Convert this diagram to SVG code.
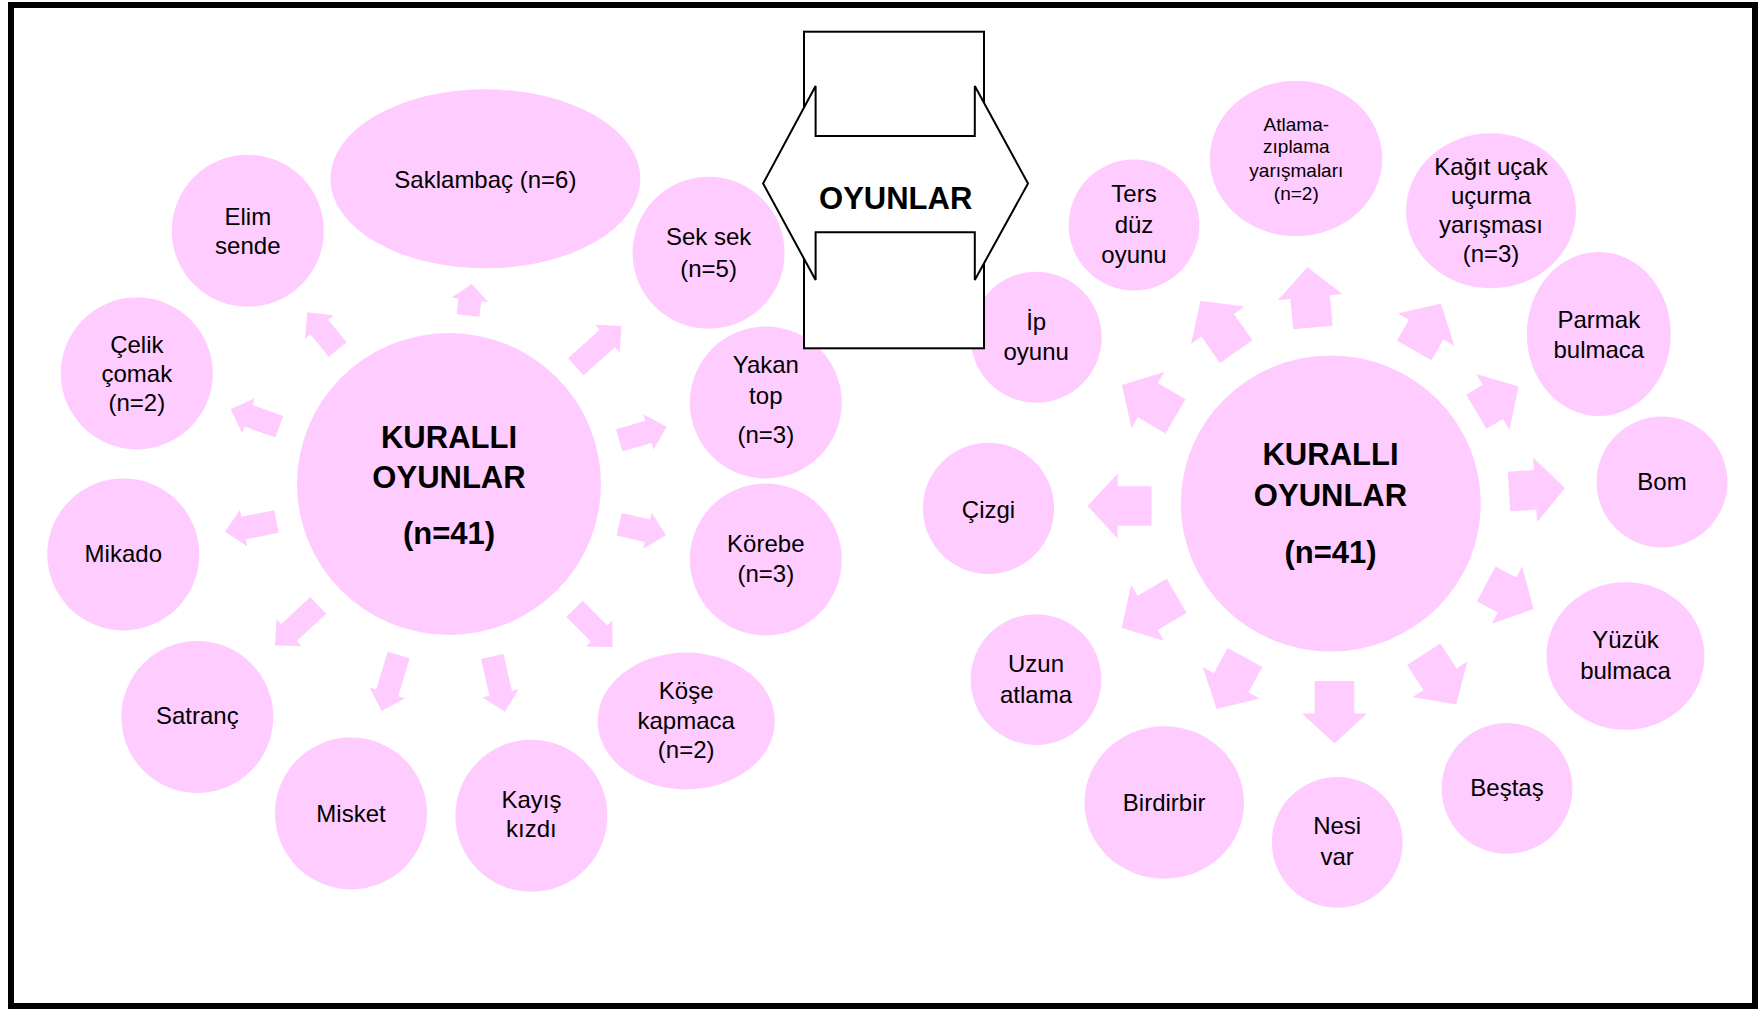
<svg xmlns="http://www.w3.org/2000/svg" width="1758" height="1009" viewBox="0 0 1758 1009">
  <style>
    .node { fill: #FFCCFF; }
    .arr { fill: #FFCCFF; }
    .lbl { font-family: "Liberation Sans", Arial, sans-serif; font-size: 24px; fill: #000; text-anchor: middle; }
    .sm { font-size: 19px; }
    .hub { font-weight: bold; font-size: 31px; }
    .frame { fill: none; stroke: #000; stroke-width: 6; }
    .box { fill: #fff; stroke: #000; stroke-width: 2; }
  </style>

  <rect x="0" y="0" width="1758" height="1009" fill="#fff"/>

  <!-- block arrows radiating from the two hubs -->
  <g id="connectors">
    <!-- left hub -->
    <path class="arr" d="M0,-11.5H15.7V-18.5L31.7,0L15.7,18.5V11.5H0Z" transform="translate(468,315.5) rotate(-83.3)"/>
    <path class="arr" d="M0,-11.5H29V-18.5L48,0L29,18.5V11.5H0Z" transform="translate(337.7,349.5) rotate(-129.3)"/>
    <path class="arr" d="M0,-11.5H32.7V-18.5L51.7,0L32.7,18.5V11.5H0Z" transform="translate(279.3,426.8) rotate(-160.2)"/>
    <path class="arr" d="M0,-11.5H33.5V-18.5L52.5,0L33.5,18.5V11.5H0Z" transform="translate(276.5,521.5) rotate(168.8)"/>
    <path class="arr" d="M0,-11.5H39.9V-18.5L58.9,0L39.9,18.5V11.5H0Z" transform="translate(318.2,605.3) rotate(137.1)"/>
    <path class="arr" d="M0,-11.5H39.5V-18.5L58.5,0L39.5,18.5V11.5H0Z" transform="translate(398.7,655) rotate(106.9)"/>
    <path class="arr" d="M0,-11.5H37.7V-18.5L56.7,0L37.7,18.5V11.5H0Z" transform="translate(492.2,656.5) rotate(77)"/>
    <path class="arr" d="M0,-11.5H34.9V-18.5L53.9,0L34.9,18.5V11.5H0Z" transform="translate(574.5,608.8) rotate(45.1)"/>
    <path class="arr" d="M0,-11.5H29V-18.5L48,0L29,18.5V11.5H0Z" transform="translate(619.2,524.2) rotate(13)"/>
    <path class="arr" d="M0,-11.5H30.4V-18.5L49.4,0L30.4,18.5V11.5H0Z" transform="translate(619.2,440.3) rotate(-16)"/>
    <path class="arr" d="M0,-11.5H42.2V-18.5L61.2,0L42.2,18.5V11.5H0Z" transform="translate(575.8,366.7) rotate(-41.7)"/>
    <!-- right hub -->
    <path class="arr" d="M0,-19.8H33.9V-32.5L63.9,0L33.9,32.5V19.8H0Z" transform="translate(1151.5,506) rotate(180)"/>
    <path class="arr" d="M0,-19.8H32V-32.5L62,0L32,32.5V19.8H0Z" transform="translate(1175.5,416.3) rotate(-149.7)"/>
    <path class="arr" d="M0,-19.8H32.3V-32.5L62.3,0L32.3,32.5V19.8H0Z" transform="translate(1236.2,351.7) rotate(-125)"/>
    <path class="arr" d="M0,-19.8H30.5V-32.5L60.5,0L30.5,32.5V19.8H0Z" transform="translate(1313,327.5) rotate(-95.4)"/>
    <path class="arr" d="M0,-19.8H24.1V-32.5L54.1,0L24.1,32.5V19.8H0Z" transform="translate(1414.2,350.5) rotate(-60.3)"/>
    <path class="arr" d="M0,-19.8H19.2V-32.5L49.2,0L19.2,32.5V19.8H0Z" transform="translate(1476.3,411.7) rotate(-30.8)"/>
    <path class="arr" d="M0,-19.8H26.1V-32.5L56.1,0L26.1,32.5V19.8H0Z" transform="translate(1509,491.5) rotate(-3.6)"/>
    <path class="arr" d="M0,-19.8H23.5V-32.5L53.5,0L23.5,32.5V19.8H0Z" transform="translate(1486.2,584) rotate(27.9)"/>
    <path class="arr" d="M0,-19.8H29.9V-32.5L59.9,0L29.9,32.5V19.8H0Z" transform="translate(1423.7,654.2) rotate(57)"/>
    <path class="arr" d="M0,-19.8H32.5V-32.5L62.5,0L32.5,32.5V19.8H0Z" transform="translate(1334.5,681) rotate(90)"/>
    <path class="arr" d="M0,-19.8H28.8V-32.5L58.8,0L28.8,32.5V19.8H0Z" transform="translate(1245,657.5) rotate(118.8)"/>
    <path class="arr" d="M0,-19.8H33.7V-32.5L63.7,0L33.7,32.5V19.8H0Z" transform="translate(1176.7,595.8) rotate(149.7)"/>
  </g>

  <!-- left cluster -->
  <g id="hub-left">
    <ellipse class="node" cx="449" cy="484" rx="152" ry="151"/>
    <text class="lbl hub" x="449" y="447.5">KURALLI</text>
    <text class="lbl hub" x="449" y="487.7">OYUNLAR</text>
    <text class="lbl hub" x="449" y="544">(n=41)</text>
  </g>
  <g id="saklambac">
    <ellipse class="node" cx="485.4" cy="178.8" rx="155" ry="89.5"/>
    <text class="lbl" x="485.4" y="188">Saklambaç (n=6)</text>
  </g>
  <g id="elim-sende">
    <circle class="node" cx="247.8" cy="230.8" r="76"/>
    <text class="lbl" x="247.8" y="225">Elim</text>
    <text class="lbl" x="247.8" y="254">sende</text>
  </g>
  <g id="celik-comak">
    <circle class="node" cx="136.8" cy="373.4" r="76"/>
    <text class="lbl" x="136.8" y="352.7">Çelik</text>
    <text class="lbl" x="136.8" y="381.7">çomak</text>
    <text class="lbl" x="136.8" y="410.7">(n=2)</text>
  </g>
  <g id="mikado">
    <circle class="node" cx="123.3" cy="554.4" r="76"/>
    <text class="lbl" x="123.3" y="562">Mikado</text>
  </g>
  <g id="satranc">
    <circle class="node" cx="197.3" cy="717" r="76"/>
    <text class="lbl" x="197.3" y="724.3">Satranç</text>
  </g>
  <g id="misket">
    <circle class="node" cx="351" cy="813.4" r="76"/>
    <text class="lbl" x="351" y="822">Misket</text>
  </g>
  <g id="kayis-kizdi">
    <circle class="node" cx="531.4" cy="815.7" r="76"/>
    <text class="lbl" x="531.4" y="807.7">Kayış</text>
    <text class="lbl" x="531.4" y="837">kızdı</text>
  </g>
  <g id="kose-kapmaca">
    <ellipse class="node" cx="686.2" cy="721" rx="88.6" ry="68.4"/>
    <text class="lbl" x="686.2" y="698.7">Köşe</text>
    <text class="lbl" x="686.2" y="728.8">kapmaca</text>
    <text class="lbl" x="686.2" y="758">(n=2)</text>
  </g>
  <g id="korebe">
    <circle class="node" cx="765.8" cy="559.5" r="76"/>
    <text class="lbl" x="765.8" y="552.2">Körebe</text>
    <text class="lbl" x="765.8" y="581.5">(n=3)</text>
  </g>
  <g id="yakan-top">
    <circle class="node" cx="765.8" cy="402.5" r="76"/>
    <text class="lbl" x="765.8" y="373.3">Yakan</text>
    <text class="lbl" x="765.8" y="404">top</text>
    <text class="lbl" x="765.8" y="443">(n=3)</text>
  </g>
  <g id="sek-sek">
    <circle class="node" cx="708.6" cy="252.8" r="76"/>
    <text class="lbl" x="708.6" y="245">Sek sek</text>
    <text class="lbl" x="708.6" y="276.7">(n=5)</text>
  </g>

  <!-- right cluster -->
  <g id="hub-right">
    <ellipse class="node" cx="1330.8" cy="503.5" rx="150" ry="148"/>
    <text class="lbl hub" x="1330.5" y="465">KURALLI</text>
    <text class="lbl hub" x="1330.5" y="505.6">OYUNLAR</text>
    <text class="lbl hub" x="1330.5" y="563">(n=41)</text>
  </g>
  <g id="ip-oyunu">
    <circle class="node" cx="1036.2" cy="337.2" r="65.5"/>
    <text class="lbl" x="1036.2" y="330">İp</text>
    <text class="lbl" x="1036.2" y="360">oyunu</text>
  </g>
  <g id="ters-duz">
    <circle class="node" cx="1134" cy="225" r="65.4"/>
    <text class="lbl" x="1134" y="201.7">Ters</text>
    <text class="lbl" x="1134" y="233.3">düz</text>
    <text class="lbl" x="1134" y="263.3">oyunu</text>
  </g>
  <g id="atlama-ziplama">
    <ellipse class="node" cx="1296" cy="158.5" rx="86.2" ry="77.7"/>
    <text class="lbl sm" x="1296.3" y="130.7">Atlama-</text>
    <text class="lbl sm" x="1296.3" y="153.3">zıplama</text>
    <text class="lbl sm" x="1296.3" y="176.7">yarışmaları</text>
    <text class="lbl sm" x="1296.3" y="199.5">(n=2)</text>
  </g>
  <g id="kagit-ucak">
    <ellipse class="node" cx="1491" cy="210.8" rx="85" ry="77.5"/>
    <text class="lbl" x="1491" y="175">Kağıt uçak</text>
    <text class="lbl" x="1491" y="204">uçurma</text>
    <text class="lbl" x="1491" y="233.3">yarışması</text>
    <text class="lbl" x="1491" y="262">(n=3)</text>
  </g>
  <g id="parmak-bulmaca">
    <ellipse class="node" cx="1598.8" cy="334" rx="72" ry="82"/>
    <text class="lbl" x="1598.8" y="328.3">Parmak</text>
    <text class="lbl" x="1598.8" y="358.3">bulmaca</text>
  </g>
  <g id="bom">
    <circle class="node" cx="1662" cy="482" r="65.4"/>
    <text class="lbl" x="1662" y="489.5">Bom</text>
  </g>
  <g id="yuzuk-bulmaca">
    <ellipse class="node" cx="1625.5" cy="656" rx="79" ry="73.8"/>
    <text class="lbl" x="1625.5" y="648">Yüzük</text>
    <text class="lbl" x="1625.5" y="679.2">bulmaca</text>
  </g>
  <g id="bestas">
    <circle class="node" cx="1507" cy="788.4" r="65.4"/>
    <text class="lbl" x="1507" y="796.4">Beştaş</text>
  </g>
  <g id="nesi-var">
    <circle class="node" cx="1337.2" cy="842.3" r="65.4"/>
    <text class="lbl" x="1337.2" y="834">Nesi</text>
    <text class="lbl" x="1337.2" y="865.2">var</text>
  </g>
  <g id="birdirbir">
    <ellipse class="node" cx="1164.2" cy="802.5" rx="79.8" ry="76.2"/>
    <text class="lbl" x="1164.2" y="810.7">Birdirbir</text>
  </g>
  <g id="uzun-atlama">
    <circle class="node" cx="1036" cy="679.6" r="65.4"/>
    <text class="lbl" x="1036" y="672.4">Uzun</text>
    <text class="lbl" x="1036" y="702.5">atlama</text>
  </g>
  <g id="cizgi">
    <circle class="node" cx="988.5" cy="508.4" r="65.6"/>
    <text class="lbl" x="988.5" y="518.4">Çizgi</text>
  </g>

  <!-- central two-way arrow over a tall box -->
  <g id="oyunlar">
    <rect class="box" x="804" y="31.7" width="180" height="316.6"/>
    <polygon class="box" points="815.6,136 974.8,136 974.8,86 1028,183.5 974.8,280 974.8,232.3 815.6,232.3 815.6,280 763.1,183.5 815.6,86"/>
    <text class="lbl hub" x="895.7" y="209.3">OYUNLAR</text>
  </g>

  <rect class="frame" x="11" y="5" width="1744" height="1001"/>
</svg>
